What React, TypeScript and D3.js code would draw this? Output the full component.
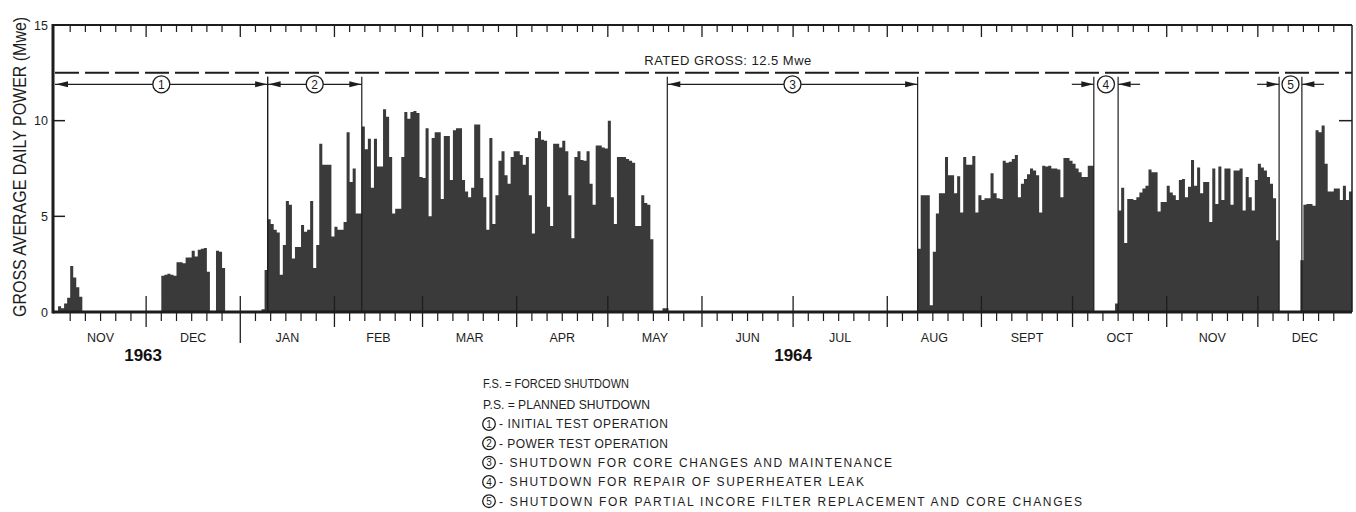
import React from 'react';
import * as d3 from 'd3';

// Gross average daily power (Mwe), one value per day, by month.
const nov1963 = [0, 0.3, 0.2, 0.45, 0.75, 2.4, 1.8, 1.3, 0.8, 0, 0, 0, 0, 0, 0, 0, 0, 0, 0, 0, 0, 0, 0, 0, 0, 0, 0, 0, 0, 0];
const dec1963 = [0, 0, 0, 0, 0, 1.9, 1.95, 2.0, 1.95, 1.9, 2.6, 2.6, 2.55, 2.85, 2.85, 3.2, 2.9, 3.25, 3.3, 3.35, 2.1, 0, 0, 3.2, 3.15, 2.3, 0, 0, 0, 0, 0];
const jan1964 = [0, 0, 0, 0, 0, 0, 0, 0.15, 2.2, 4.85, 4.6, 4.3, 4.15, 1.95, 3.5, 5.8, 5.6, 2.8, 3.4, 3.4, 4.55, 4.2, 4.3, 5.8, 2.3, 3.5, 8.8, 7.7, 7.7, 7.7, 3.95];
const feb1964 = [4.45, 4.3, 4.3, 4.7, 9.4, 6.8, 7.5, 5.15, 5.15, 9.7, 8.5, 9.05, 6.5, 9.05, 7.6, 7.6, 10.6, 10.2, 8.1, 5.15, 5.4, 5.4, 8.1, 10.45, 10.1, 10.45, 10.5, 10.4, 7.05];
const mar1964 = [7.0, 9.6, 5.0, 9.1, 9.4, 9.4, 5.9, 9.2, 9.2, 6.9, 9.5, 9.6, 9.6, 6.9, 6.3, 6.0, 6.5, 9.8, 9.8, 7.0, 6.0, 4.3, 9.1, 4.6, 6.1, 7.9, 8.4, 7.15, 6.7, 8.1, 8.4];
const apr1964 = [8.4, 8.2, 7.7, 8.1, 6.1, 4.1, 9.1, 9.45, 9.0, 8.95, 5.5, 4.5, 8.8, 8.8, 8.6, 8.95, 8.4, 6.1, 3.85, 8.1, 8.4, 7.95, 7.9, 8.4, 6.7, 5.6, 8.7, 8.7, 8.6, 8.55];
const may1964 = [10.0, 6.0, 4.6, 8.1, 8.1, 8.1, 8.0, 7.9, 7.8, 4.5, 4.5, 6.1, 5.7, 5.6, 3.8, 0, 0, 0, 0.2, 0.2, 0, 0, 0, 0, 0, 0, 0, 0, 0, 0, 0];
const jun1964 = [0, 0, 0, 0, 0, 0, 0, 0, 0, 0, 0, 0, 0, 0, 0, 0, 0, 0, 0, 0, 0, 0, 0, 0, 0, 0, 0, 0, 0, 0];
const jul1964 = [0, 0, 0, 0, 0, 0, 0, 0, 0, 0, 0, 0, 0, 0, 0, 0, 0, 0, 0, 0, 0, 0, 0, 0, 0, 0, 0, 0, 0, 0, 0];
const aug1964 = [0, 0, 0, 0, 0, 0, 0, 0, 0, 0, 3.3, 6.1, 6.1, 6.1, 0.35, 3.15, 5.15, 6.2, 6.2, 8.1, 7.15, 7.15, 6.2, 7.1, 5.2, 8.1, 7.7, 7.7, 8.15, 5.2, 6.1];
const sep1964 = [5.85, 5.95, 5.95, 7.25, 6.2, 5.95, 5.9, 7.9, 7.8, 7.85, 8.0, 8.2, 6.0, 6.7, 6.95, 7.2, 7.5, 7.4, 7.15, 5.2, 7.65, 7.6, 7.65, 7.5, 7.5, 7.45, 6.0, 8.05, 8.05, 7.9];
const oct1964 = [7.75, 7.5, 7.3, 7.05, 7.05, 7.65, 7.65, 0, 0, 0, 0, 0, 0, 0, 0.45, 5.3, 6.5, 3.6, 5.9, 5.9, 5.85, 6.0, 6.25, 6.45, 6.6, 7.45, 7.3, 7.3, 5.25, 5.75, 5.75];
const nov1964 = [6.6, 6.25, 6.1, 5.85, 6.9, 6.95, 6.0, 6.55, 7.95, 6.6, 7.55, 6.2, 6.8, 6.8, 4.7, 7.5, 5.65, 7.6, 5.85, 7.5, 7.5, 5.6, 7.4, 7.4, 7.5, 5.3, 7.05, 6.0, 5.3, 6.9];
const dec1964 = [7.75, 7.55, 7.4, 7.05, 6.7, 5.95, 3.75, 0, 0, 0, 0, 0, 0, 0, 2.7, 5.6, 5.65, 5.65, 5.55, 9.5, 9.4, 9.75, 7.75, 6.3, 6.3, 6.45, 6.45, 5.85, 6.6, 5.85, 6.3];

const MONTH_LABELS = ['NOV', 'DEC', 'JAN', 'FEB', 'MAR', 'APR', 'MAY', 'JUN', 'JUL', 'AUG', 'SEPT', 'OCT', 'NOV', 'DEC'];
const MONTH_VALUES = [nov1963, dec1963, jan1964, feb1964, mar1964, apr1964, may1964, jun1964, jul1964, aug1964, sep1964, oct1964, nov1964, dec1964];
const Y_TICKS = [0, 5, 10, 15];
const RATED_GROSS = 12.5;
const YEAR_LABELS = [
  { text: '1963', at: new Date(1963, 10, 30) },
  { text: '1964', at: new Date(1964, 6, 1) },
];

// Operating periods marked above the bars.
const PHASE_NUMBERS = [1, 2, 3, 4, 5];
const PHASE_STARTS = [new Date(1963, 10, 1), new Date(1964, 0, 10), new Date(1964, 4, 20, 14), new Date(1964, 9, 8), new Date(1964, 11, 8)];
const PHASE_ENDS = [new Date(1964, 0, 10), new Date(1964, 1, 10), new Date(1964, 7, 11), new Date(1964, 9, 16), new Date(1964, 11, 15, 12)];
const PHASE_ARROWS = ['out', 'out', 'out', 'in', 'in'];

const ABBREVIATIONS = [
  ['F.S.', 'FORCED SHUTDOWN'],
  ['P.S.', 'PLANNED SHUTDOWN'],
];
const PHASE_NOTES = [
  'INITIAL TEST OPERATION',
  'POWER TEST OPERATION',
  'SHUTDOWN FOR CORE CHANGES AND MAINTENANCE',
  'SHUTDOWN FOR REPAIR OF SUPERHEATER LEAK',
  'SHUTDOWN FOR PARTIAL INCORE FILTER REPLACEMENT AND CORE CHANGES',
];

// Layout of the key block (left edge, right edge of each line).
const KEY_LEFT = 483;
const KEY_ABBR_ENDS = [629, 650];
const KEY_NOTE_ENDS = [668, 668, 892, 864, 1082];

const FONT = "'Liberation Sans', Arial, Helvetica, sans-serif";
const INK = '#1d1d1d';
const BAR = '#3a3a3a';

type Pt = { date: Date; v: number };

function Circled({ cx, cy, r, n, fs }: { cx: number; cy: number; r: number; n: number; fs: number }) {
  return (
    <g>
      <circle cx={cx} cy={cy} r={r} fill="#fff" stroke={INK} strokeWidth={1.3} />
      <text x={cx} y={cy} dy="0.36em" textAnchor="middle" fontSize={fs} fill={INK}>{n}</text>
    </g>
  );
}

function Arrowhead({ x, y, dir }: { x: number; y: number; dir: number }) {
  const L = 12;
  const h = 3;
  return <path d={`M${x},${y}L${x - dir * L},${y - h}L${x - dir * L},${y + h}Z`} fill={INK} />;
}

export default function App() {
  const W = 1356;
  const H = 512;
  const start = new Date(1963, 10, 1);
  const stop = new Date(1965, 0, 1);
  const x = d3.scaleTime().domain([start, stop]).range([55, 1352]);
  const y = d3.scaleLinear().domain([0, 15]).range([312, 25]);

  const monthStarts = d3.timeMonth.range(start, stop);
  const series: Pt[] = monthStarts.flatMap((m, mi) =>
    MONTH_VALUES[mi].map((v, i) => ({ date: new Date(m.getFullYear(), m.getMonth(), i + 1), v }))
  );
  const stepped = [...series, { date: stop, v: series[series.length - 1].v }];
  const area = d3
    .area<Pt>()
    .x((d) => x(d.date))
    .y0(y(0))
    .y1((d) => y(d.v))
    .curve(d3.curveStepAfter);

  const days = d3.timeDay.range(start, stop);
  const minorDays = days.filter((d) => [6, 11, 16, 21, 26].includes(d.getDate()));
  const majorDays = monthStarts.filter((d) => +d !== +start);
  const yearBreak = new Date(1964, 0, 1);

  const x0 = x.range()[0];
  const x1 = x.range()[1];
  const axisX = 53;
  const yTop = y(15);
  const yBase = y(0);
  const arrowY = y(11.9);
  const dividerTop = y(12.3);

  return (
    <svg
      width={W}
      height={H}
      viewBox={`0 0 ${W} ${H}`}
      style={{ position: 'absolute', left: 0, top: 0, background: '#fff' }}
      fontFamily={FONT}
    >
      <rect x={0} y={0} width={W} height={H} fill="#fff" />

      {/* daily power histogram */}
      <path d={area(stepped) || ''} fill={BAR} />

      {/* frame */}
      <line x1={axisX} x2={x1} y1={yTop} y2={yTop} stroke={INK} strokeWidth={2} />
      <line x1={x1} x2={x1} y1={yTop} y2={yBase} stroke={INK} strokeWidth={1.5} />
      <line x1={axisX} x2={x1} y1={yBase} y2={yBase} stroke={INK} strokeWidth={3} />
      <line x1={axisX} x2={axisX} y1={yTop - 1} y2={yBase + 1.5} stroke={INK} strokeWidth={3} />

      {/* y ticks and labels */}
      {Y_TICKS.map((t) => (
        <g key={t}>
          {t > 0 && t < 15 && <line x1={axisX} x2={axisX + 12} y1={y(t)} y2={y(t)} stroke={INK} strokeWidth={1.5} />}
          <text x={48} y={y(t)} dy="0.36em" textAnchor="end" fontSize={12.5} fill={INK}>{t}</text>
        </g>
      ))}
      <line x1={x1 - 13} x2={x1} y1={y(10)} y2={y(10)} stroke={INK} strokeWidth={1.5} />

      {/* condensed, tall lettering for the axis title */}
      <text transform={`translate(26,317) rotate(-90) scale(1,1.12)`} fontSize={16} fill={INK}>
        GROSS AVERAGE DAILY POWER (Mwe)
      </text>

      {/* time ticks, top and bottom */}
      {minorDays.map((d, i) => (
        <g key={`m${i}`}>
          <line x1={x(d)} x2={x(d)} y1={yTop} y2={yTop + 7} stroke={INK} strokeWidth={1.2} />
          <line x1={x(d)} x2={x(d)} y1={yBase} y2={yBase + 9} stroke={INK} strokeWidth={1.2} />
        </g>
      ))}
      {majorDays.map((d, i) => (
        <g key={`M${i}`}>
          <line x1={x(d)} x2={x(d)} y1={yTop} y2={yTop + 12} stroke={INK} strokeWidth={1.3} />
          <line
            x1={x(d)}
            x2={x(d)}
            y1={yBase - 16}
            y2={+d === +yearBreak ? yBase + 31 : yBase + 15}
            stroke={INK}
            strokeWidth={1.3}
          />
        </g>
      ))}

      {/* month and year labels */}
      {monthStarts.map((m, i) => {
        const next = d3.timeMonth.offset(m, 1);
        const cx = (x(m) + x(next)) / 2;
        return (
          <text key={`l${i}`} x={cx} y={342} textAnchor="middle" fontSize={12.5} fill={INK}>
            {MONTH_LABELS[i]}
          </text>
        );
      })}
      {YEAR_LABELS.map((yl) => (
        <text key={yl.text} x={x(yl.at)} y={361} textAnchor="middle" fontSize={17} fontWeight="bold" fill="#111">
          {yl.text}
        </text>
      ))}

      {/* rated gross level */}
      <line
        x1={x0}
        x2={x1}
        y1={y(RATED_GROSS)}
        y2={y(RATED_GROSS)}
        stroke={INK}
        strokeWidth={2}
        strokeDasharray="24 6"
      />
      <text
        x={x(new Date(1964, 5, 9, 12))}
        y={y(RATED_GROSS) - 7.5}
        textAnchor="middle"
        fontSize={13}
        fill={INK}
        textLength={167}
        lengthAdjust="spacing"
      >
        {`RATED GROSS: ${RATED_GROSS} Mwe`}
      </text>

      {/* operating periods */}
      {PHASE_NUMBERS.map((n, i) => {
        const a = x(PHASE_STARTS[i]);
        const b = x(PHASE_ENDS[i]);
        const mid = (a + b) / 2;
        const out = PHASE_ARROWS[i] === 'out';
        return (
          <g key={`p${n}`}>
            {a > x0 + 1 && <line x1={a} x2={a} y1={dividerTop} y2={yBase} stroke={INK} strokeWidth={1.2} />}
            <line x1={b} x2={b} y1={dividerTop} y2={yBase} stroke={INK} strokeWidth={1.2} />
            {out ? (
              <g>
                <line x1={a} x2={b} y1={arrowY} y2={arrowY} stroke={INK} strokeWidth={1.2} />
                <Arrowhead x={a + 1} y={arrowY} dir={-1} />
                <Arrowhead x={b - 0.5} y={arrowY} dir={1} />
              </g>
            ) : (
              <g>
                <line x1={a - 22} x2={a} y1={arrowY} y2={arrowY} stroke={INK} strokeWidth={1.2} />
                <line x1={b} x2={b + 22} y1={arrowY} y2={arrowY} stroke={INK} strokeWidth={1.2} />
                <Arrowhead x={a - 0.5} y={arrowY} dir={1} />
                <Arrowhead x={b + 0.5} y={arrowY} dir={-1} />
              </g>
            )}
            <Circled cx={mid} cy={arrowY} r={8.5} n={n} fs={12} />
          </g>
        );
      })}

      {/* key */}
      {ABBREVIATIONS.map(([abbr, desc], i) => (
        <text
          key={abbr}
          x={KEY_LEFT}
          y={388 + i * 21}
          fontSize={12}
          fill={INK}
          textLength={KEY_ABBR_ENDS[i] - KEY_LEFT}
          lengthAdjust="spacingAndGlyphs"
        >
          {`${abbr} = ${desc}`}
        </text>
      ))}
      {PHASE_NOTES.map((note, i) => {
        const cy = 424 + i * 19.3;
        const tx = KEY_LEFT + 16;
        return (
          <g key={`n${i}`}>
            <Circled cx={KEY_LEFT + 6} cy={cy} r={6.3} n={i + 1} fs={10} />
            <text
              x={tx}
              y={cy + 4.3}
              fontSize={12}
              fill={INK}
              textLength={KEY_NOTE_ENDS[i] - tx}
              lengthAdjust="spacing"
            >
              {`- ${note}`}
            </text>
          </g>
        );
      })}
    </svg>
  );
}
